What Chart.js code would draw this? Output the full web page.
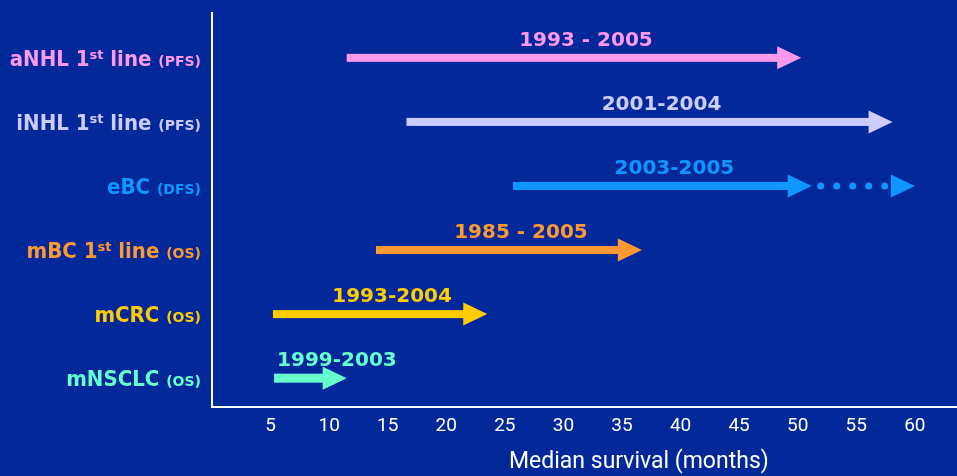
<!DOCTYPE html>
<html>
<head>
<meta charset="utf-8">
<script src="https://cdn.jsdelivr.net/npm/chart.js@4.4.1/dist/chart.umd.min.js"></script>
<style>
  html, body { margin: 0; padding: 0; background: #03289a; }
  #wrap { width: 957px; height: 476px; position: relative; }
</style>
</head>
<body>
<div id="wrap"><canvas id="chart"></canvas></div>
<script>
// indications, top to bottom
const indications = ['aNHL', 'iNHL', 'eBC', 'mBC', 'mCRC', 'mNSCLC'];
const therapyLine = ['1', '1', '', '1', '', ''];
const endpoints = ['PFS', 'PFS', 'DFS', 'OS', 'OS', 'OS'];
const periods = ['1993 - 2005', '2001-2004', '2003-2005', '1985 - 2005', '1993-2004', '1999-2003'];
// median survival (months): arrow tail and arrow tip
const survivalFrom = [11.5, 16.6, 25.7, 14.0, 5.2, 5.3];
const survivalTo = [50.3, 58.1, 51.2, 36.7, 23.5, 11.5];
// dotted projection beyond the solid arrow (eBC only)
const projectedTo = [null, null, 60.0, null, null, null];
const xTicks = [5, 10, 15, 20, 25, 30, 35, 40, 45, 50, 55, 60];

const colors = ['#ff99ee', '#ccccff', '#0f96ff', '#ff9933', '#ffcc00', '#66ffcc'];
const MAIN_FONT = '"DejaVu Sans Condensed", "DejaVu Sans", sans-serif';
const SMALL_FONT = '"DejaVu Sans", sans-serif';

const HEAD_LEN = 24;
const HEAD_HALF = 11.5;

function drawHead(ctx, tipX, y, color) {
  ctx.fillStyle = color;
  ctx.beginPath();
  ctx.moveTo(tipX - HEAD_LEN, y - HEAD_HALF);
  ctx.lineTo(tipX, y);
  ctx.lineTo(tipX - HEAD_LEN, y + HEAD_HALF);
  ctx.closePath();
  ctx.fill();
}

const arrowPlugin = {
  id: 'arrows',
  afterDatasetsDraw(chart) {
    const ctx = chart.ctx;
    ctx.save();
    chart.getDatasetMeta(0).data.forEach((bar, i) => {
      const { x, y, base } = bar.getProps(['x', 'y', 'base'], true);
      const shaft = i === 5 ? 9 : 8;
      ctx.fillStyle = colors[i];
      ctx.fillRect(base, y - shaft / 2, (x - HEAD_LEN + 1) - base, shaft);
      drawHead(ctx, x, y, colors[i]);
    });
    const ext = chart.getDatasetMeta(1);
    if (ext.data.length) {
      const last = ext.data[ext.data.length - 1];
      drawHead(ctx, last.x, last.y, colors[2]);
    }
    ctx.restore();
  },
  afterDraw(chart) {
    const ctx = chart.ctx;
    const yScale = chart.scales.y;
    ctx.save();

    // period labels above each arrow
    ctx.font = 'bold 20px ' + SMALL_FONT;
    ctx.textAlign = 'center';
    ctx.textBaseline = 'middle';
    chart.getDatasetMeta(0).data.forEach((bar, i) => {
      const { x, y, base } = bar.getProps(['x', 'y', 'base'], true);
      const w = ctx.measureText(periods[i]).width;
      let cx = (base + x) / 2 + 12;
      if (cx - w / 2 < base + 3) cx = base + 3 + w / 2;
      ctx.fillStyle = colors[i];
      ctx.fillText(periods[i], cx, y - 17);
    });

    // row labels with superscript and small endpoint
    ctx.textAlign = 'left';
    ctx.textBaseline = 'alphabetic';
    const right = 201;
    const big = 'bold 22px ' + MAIN_FONT;
    indications.forEach((name, i) => {
      const y = yScale.getPixelForValue(i) + 8;
      const parts = [{ t: name, f: big, dy: 0 }];
      if (therapyLine[i]) {
        parts.push({ t: ' ' + therapyLine[i], f: big, dy: 0 });
        parts.push({ t: 'st', f: 'bold 13px ' + SMALL_FONT, dy: -7 });
        parts.push({ t: ' line', f: big, dy: 0 });
      }
      parts.push({ t: ' ', f: big, dy: 0 });
      parts.push({ t: '(' + endpoints[i] + ')', f: 'bold 14px ' + SMALL_FONT, dy: 0 });
      let total = 0;
      parts.forEach(p => {
        ctx.font = p.f;
        p.w = ctx.measureText(p.t).width;
        total += p.w;
      });
      let px = right - total;
      ctx.fillStyle = colors[i];
      parts.forEach(p => {
        ctx.font = p.f;
        ctx.fillText(p.t, px, y + p.dy);
        px += p.w;
      });
    });

    // axis title
    ctx.font = '23px Roboto';
    ctx.fillStyle = '#ffffff';
    ctx.textAlign = 'center';
    ctx.textBaseline = 'middle';
    const a = chart.chartArea;
    ctx.fillText('Median survival (months)', a.left + (a.right - a.left) * 0.573, 462);
    ctx.restore();
  }
};

const projection = [];
projectedTo.forEach((v, i) => {
  if (v !== null) {
    projection.push({ x: survivalTo[i], y: i });
    projection.push({ x: v, y: i });
  }
});

new Chart(document.getElementById('chart'), {
  type: 'bar',
  data: {
    datasets: [
      {
        data: indications.map((_, i) => ({ x: [survivalFrom[i], survivalTo[i]], y: i })),
        backgroundColor: 'rgba(0,0,0,0)',
        barThickness: 8
      },
      {
        type: 'line',
        data: projection,
        borderColor: colors[2],
        borderWidth: 7,
        borderDash: [0, 16],
        borderDashOffset: 7,
        borderCapStyle: 'round',
        pointRadius: 0,
        fill: false
      }
    ]
  },
  options: {
    indexAxis: 'y',
    responsive: true,
    maintainAspectRatio: false,
    animation: false,
    layout: { padding: { top: 13, right: 0, left: 0, bottom: 0 } },
    scales: {
      x: {
        type: 'linear',
        min: 0,
        max: 63.6,
        afterFit: s => { s.height = 69; },
        afterBuildTicks: s => { s.ticks = xTicks.map(v => ({ value: v })); },
        grid: { display: false, drawTicks: false },
        border: { display: true, color: '#ffffff', width: 2 },
        ticks: {
          color: '#ffffff',
          font: { family: 'Roboto', size: 19 },
          padding: 8,
          maxRotation: 0
        }
      },
      y: {
        type: 'linear',
        reverse: true,
        offset: false,
        min: -0.7,
        max: 5.45,
        afterFit: s => { s.width = 212; },
        grid: { display: false, drawTicks: false, offset: false },
        border: { display: true, color: '#ffffff', width: 2 },
        ticks: { display: false }
      }
    },
    plugins: {
      legend: { display: false },
      tooltip: { enabled: false }
    }
  },
  plugins: [arrowPlugin]
});
</script>
</body>
</html>
